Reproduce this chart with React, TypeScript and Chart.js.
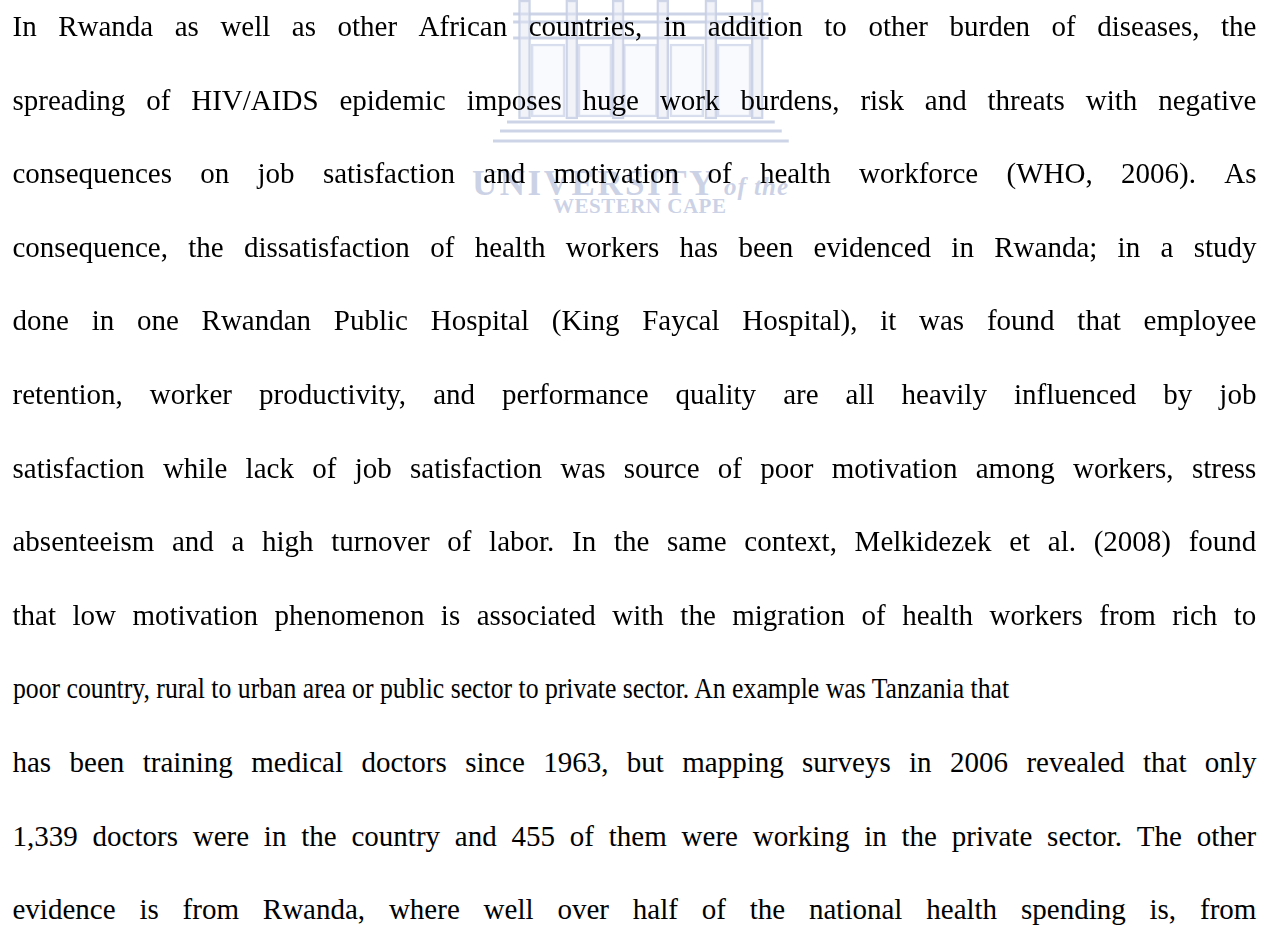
import React, { useEffect, useRef, useMemo } from "react";
import { Chart, registerables } from "chart.js";
Chart.register(...registerables);

// ---- page text (one entry per printed line) ----
const lines: string[] = [
  "In Rwanda as well as other African countries, in addition to other burden of diseases, the",
  "spreading of HIV/AIDS epidemic imposes huge work burdens, risk and threats with negative",
  "consequences on job satisfaction and motivation of health workforce (WHO, 2006). As",
  "consequence, the dissatisfaction of health workers has been evidenced in Rwanda; in a study",
  "done in one Rwandan Public Hospital (King Faycal Hospital), it was found that employee",
  "retention, worker productivity, and performance quality are all heavily influenced by job",
  "satisfaction while lack of job satisfaction was source of poor motivation among workers, stress",
  "absenteeism and a high turnover of labor. In the same context, Melkidezek et al. (2008) found",
  "that low motivation phenomenon is associated with the migration of health workers from rich to",
  "poor country, rural to urban area or public sector to private sector. An example was Tanzania that",
  "has been training medical doctors since 1963, but mapping surveys in 2006 revealed that only",
  "1,339 doctors were in the country and 455 of them were working in the private sector. The other",
  "evidence is from Rwanda, where well over half of the national health spending is, from",
];
const condensedLine = 9; // printed condensed and not justified

// ---- watermark (building) pieces, in the watermark chart's own units ----
const pillarX = [48, 102, 155, 206, 261, 314];
const pillarSpan: [number, number] = [0, 119];
const openingX = [75, 128.5, 180.5, 233.5, 287.5];
const openingSpan: [number, number] = [44, 117];
const bandY = [14, 22, 38, 122, 131, 141];
const bandFrom = [35, 35, 35, 28, 20, 12];
const bandTo = [327, 327, 327, 334, 342, 350];

const FONT = "'Liberation Serif', 'Times New Roman', Times, serif";
const FS = 29;
const LH = 73.6;
const LEFT = 12.5;
const WIDTH = 1244;
const TOP = -10;
const CONDENSED_WIDTH = 998;

const WM_STROKE = "rgba(200,207,228,0.9)";
const WM_FILL = "rgba(228,232,243,0.5)";
const WM_TEXT = "rgba(190,198,224,0.8)";

function Watermark() {
  const ref = useRef<HTMLCanvasElement | null>(null);
  useEffect(() => {
    if (!ref.current) return;
    const bands = bandY.map((y, i) => ({
      type: "line" as const,
      data: [
        { x: bandFrom[i], y },
        { x: bandTo[i], y },
      ],
      borderColor: WM_STROKE,
      borderWidth: 3,
      pointRadius: 0,
      fill: false,
    }));
    const chart = new Chart(ref.current, {
      type: "bar",
      data: {
        datasets: [
          {
            type: "bar",
            data: pillarX.map((x) => ({ x, y: pillarSpan })),
            backgroundColor: WM_FILL,
            borderColor: WM_STROKE,
            borderWidth: 2,
            barThickness: 12,
            grouped: false,
            borderSkipped: false,
          } as any,
          {
            type: "bar",
            data: openingX.map((x) => ({ x, y: openingSpan })),
            backgroundColor: "rgba(238,241,248,0.35)",
            borderColor: "rgba(208,215,234,0.85)",
            borderWidth: 2,
            barThickness: 34,
            grouped: false,
            borderSkipped: false,
          } as any,
          ...(bands as any[]),
        ],
      },
      options: {
        animation: false,
        responsive: true,
        maintainAspectRatio: false,
        events: [],
        layout: { padding: 0 },
        plugins: { legend: { display: false }, tooltip: { enabled: false } },
        scales: {
          x: { type: "linear", display: false, min: 0, max: 360 },
          y: { type: "linear", display: false, min: 0, max: 150, reverse: true },
        },
      },
    });
    return () => chart.destroy();
  }, []);
  return (
    <div style={{ position: "absolute", left: 460, top: 0, width: 360, height: 150 }}>
      <canvas ref={ref} />
    </div>
  );
}

function useMeasure() {
  return useMemo(() => {
    const c = document.createElement("canvas");
    const ctx = c.getContext("2d")!;
    ctx.font = `${FS}px ${FONT}`;
    return (s: string) => ctx.measureText(s).width;
  }, []);
}

function Line({ text, index, measure }: { text: string; index: number; measure: (s: string) => number }) {
  const top = TOP + index * LH;
  const base: React.CSSProperties = {
    position: "absolute",
    left: LEFT,
    top,
    height: LH,
    lineHeight: `${LH}px`,
    fontFamily: FONT,
    fontSize: FS,
    color: "#000",
    whiteSpace: "pre",
  };
  if (index === condensedLine) {
    const natural = measure(text);
    const s = CONDENSED_WIDTH / natural;
    return (
      <div style={{ ...base, transform: `scaleX(${s})`, transformOrigin: "left center" }}>{text}</div>
    );
  }
  const words = text.split(" ");
  const natural = measure(text);
  const s = natural > WIDTH ? WIDTH / natural : 1;
  return (
    <div
      style={{
        ...base,
        width: WIDTH / s,
        display: "flex",
        justifyContent: "space-between",
        transform: s < 1 ? `scaleX(${s})` : undefined,
        transformOrigin: "left center",
      }}
    >
      {words.map((w, i) => (
        <span key={i}>{w}</span>
      ))}
    </div>
  );
}

export default function App() {
  const measure = useMeasure();
  return (
    <div
      style={{
        position: "absolute",
        left: 0,
        top: 0,
        width: 1273,
        height: 928,
        overflow: "hidden",
        background: "#fff",
      }}
    >
      <Watermark />
      <div
        style={{
          position: "absolute",
          left: 472,
          top: 166,
          fontFamily: FONT,
          fontSize: 35,
          fontWeight: "bold",
          lineHeight: "35px",
          color: WM_TEXT,
          letterSpacing: 2.5,
          whiteSpace: "pre",
        }}
      >
        UNIVERSITY<span style={{ fontStyle: "italic", fontSize: 25, letterSpacing: 1 }}> of the</span>
      </div>
      <div
        style={{
          position: "absolute",
          left: 553,
          top: 196,
          fontFamily: FONT,
          fontSize: 21,
          fontWeight: "bold",
          lineHeight: "21px",
          color: WM_TEXT,
          letterSpacing: 0.5,
          whiteSpace: "pre",
        }}
      >
        WESTERN CAPE
      </div>
      {lines.map((t, i) => (
        <Line key={i} text={t} index={i} measure={measure} />
      ))}
    </div>
  );
}
